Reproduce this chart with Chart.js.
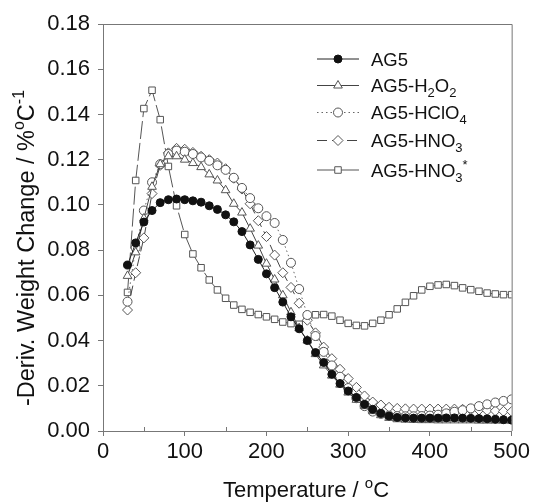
<!DOCTYPE html>
<html>
<head>
 <title>DTG curves - AG5 samples</title>
 <script src="https://cdn.jsdelivr.net/npm/chart.js"></script>
 <style>
  html, body { margin: 0; padding: 0; background: #fff; }
  #chart-container { width: 533px; height: 504px; }
 </style>
</head>
<body>
 <div id="chart-container">
  <canvas id="dtgChart" width="533" height="504"></canvas>
 </div>

 <script>
  // temperature (°C) and -deriv. weight change (%/°C)
  const temps = [30, 40, 50, 60, 70, 80, 90, 100, 110, 120, 130, 140, 150, 160, 170, 180, 190, 200,
   210, 220, 230, 240, 250, 260, 270, 280, 290, 300, 310, 320, 330, 340, 350, 360, 370, 380, 390, 400,
   410, 420, 430, 440, 450, 460, 470, 480, 490, 500];

  const ag5 = [0.0734, 0.0832, 0.0924, 0.0975, 0.1010, 0.1023, 0.1026, 0.1023, 0.1018, 0.1012, 0.0996,
   0.0980, 0.0956, 0.0925, 0.0882, 0.0823, 0.0759, 0.0695, 0.0634, 0.0570, 0.0505, 0.0452, 0.0400,
   0.0347, 0.0303, 0.0251, 0.0210, 0.0177, 0.0148, 0.0118, 0.0096, 0.0078, 0.0066, 0.0060, 0.0058,
   0.0057, 0.0057, 0.0057, 0.0057, 0.0058, 0.0058, 0.0057, 0.0056, 0.0055, 0.0054, 0.0052, 0.0050, 0.0048];

  const ag5H2O2 = [0.0686, 0.0790, 0.0940, 0.1080, 0.1180, 0.1215, 0.1215, 0.1200, 0.1185, 0.1167, 0.1135,
   0.1108, 0.1065, 0.1005, 0.0966, 0.0895, 0.0820, 0.0740, 0.0670, 0.0600, 0.0525, 0.0455, 0.0400,
   0.0340, 0.0290, 0.0245, 0.0205, 0.0170, 0.0138, 0.0110, 0.0088, 0.0070, 0.0058, 0.0052, 0.0050,
   0.0049, 0.0048, 0.0048, 0.0047, 0.0047, 0.0047, 0.0047, 0.0047, 0.0046, 0.0046, 0.0046, 0.0046, 0.0046];

  const ag5HClO4 = [0.0572, 0.0810, 0.0975, 0.1100, 0.1180, 0.1225, 0.1240, 0.1235, 0.1225, 0.1210, 0.1195,
   0.1175, 0.1155, 0.1120, 0.1075, 0.1030, 0.0985, 0.0950, 0.0920, 0.0845, 0.0744, 0.0628, 0.0513,
   0.0420, 0.0350, 0.0290, 0.0240, 0.0190, 0.0145, 0.0110, 0.0086, 0.0076, 0.0068, 0.0066, 0.0065,
   0.0065, 0.0066, 0.0068, 0.0072, 0.0078, 0.0085, 0.0092, 0.0100, 0.0110, 0.0118, 0.0126, 0.0133, 0.0140];

  const ag5HNO3 = [0.0535, 0.0700, 0.0854, 0.1050, 0.1175, 0.1230, 0.1250, 0.1246, 0.1232, 0.1215, 0.1200,
   0.1185, 0.1160, 0.1118, 0.1070, 0.1005, 0.0930, 0.0860, 0.0778, 0.0700, 0.0635, 0.0565, 0.0490,
   0.0434, 0.0371, 0.0320, 0.0273, 0.0232, 0.0193, 0.0155, 0.0128, 0.0115, 0.0105, 0.0100, 0.0098,
   0.0097, 0.0097, 0.0097, 0.0097, 0.0097, 0.0097, 0.0096, 0.0095, 0.0093, 0.0091, 0.0089, 0.0087, 0.0086];

  const ag5HNO3star = [0.0613, 0.1108, 0.1426, 0.1507, 0.1377, 0.1170, 0.0996, 0.0869, 0.0783, 0.0722, 0.0668,
   0.0624, 0.0587, 0.0557, 0.0538, 0.0525, 0.0515, 0.0505, 0.0494, 0.0482, 0.0475, 0.0472, 0.0508,
   0.0514, 0.0515, 0.0508, 0.0490, 0.0476, 0.0467, 0.0465, 0.0476, 0.0490, 0.0514, 0.0540, 0.0569,
   0.0598, 0.0624, 0.0640, 0.0646, 0.0648, 0.0643, 0.0633, 0.0625, 0.0618, 0.0610, 0.0606, 0.0603, 0.0603];

  const seriesNames = ['AG5', 'AG5-H2O2', 'AG5-HClO4', 'AG5-HNO3', 'AG5-HNO3*'];

  const xTicks = [0, 100, 200, 300, 400, 500];
  const xMinorTicks = [50, 150, 250, 350, 450];
  const yTicks = [0, 0.02, 0.04, 0.06, 0.08, 0.10, 0.12, 0.14, 0.16, 0.18];

  const FONT = '"Liberation Sans", Arial, sans-serif';

  function pts(values) {
   return temps.map((t, i) => ({ x: t, y: values[i] }));
  }

  // split a name like AG5-HNO3* into normal / subscript / superscript runs
  function nameParts(name) {
   const parts = [];
   const dash = name.indexOf('-');
   for (let i = 0; i < name.length; i++) {
    const c = name[i];
    let kind = 'n';
    if (dash >= 0 && i > dash && /[0-9]/.test(c)) kind = 'sub';
    if (c === '*') kind = 'sup';
    if (parts.length && parts[parts.length - 1].kind === kind) parts[parts.length - 1].t += c;
    else parts.push({ t: c, kind: kind });
   }
   return parts;
  }

  // draws runs of text with sub/superscripts
  function drawRich(ctx, parts, x, y, size, align) {
   const small = Math.round(size * 0.68);
   const widths = parts.map(p => {
    ctx.font = (p.kind === 'n' ? size : small) + 'px ' + FONT;
    return ctx.measureText(p.t).width;
   });
   const total = widths.reduce((a, b) => a + b, 0);
   let cx = align === 'center' ? x - total / 2 : x;
   ctx.textAlign = 'left';
   ctx.textBaseline = 'alphabetic';
   parts.forEach((p, i) => {
    ctx.font = (p.kind === 'n' ? size : small) + 'px ' + FONT;
    let dy = 0;
    if (p.kind === 'sub') dy = size * 0.28;
    if (p.kind === 'sup') dy = -size * 0.42;
    ctx.fillText(p.t, cx, y + dy);
    cx += widths[i];
   });
  }

  const styles = [
   { pointStyle: 'circle', radius: 4, fill: '#111', stroke: '#111', line: '#222', dash: [] },
   { pointStyle: 'triangle', radius: 5, fill: '#fff', stroke: '#555', line: '#444', dash: [] },
   { pointStyle: 'circle', radius: 4.5, fill: '#fff', stroke: '#555', line: '#666', dash: [1.5, 3] },
   { pointStyle: 'rectRot', radius: 5, fill: '#fff', stroke: '#555', line: '#444', dash: [10, 5] },
   { pointStyle: 'rect', radius: 4.6, fill: '#fff', stroke: '#555', line: '#555', dash: [18, 4] }
  ];
  const seriesValues = [ag5, ag5H2O2, ag5HClO4, ag5HNO3, ag5HNO3star];

  const datasets = seriesValues.map((vals, i) => ({
   label: seriesNames[i],
   data: pts(vals),
   borderColor: styles[i].line,
   borderWidth: 1,
   borderDash: styles[i].dash,
   tension: 0,
   fill: false,
   pointStyle: styles[i].pointStyle,
   pointRadius: styles[i].radius,
   pointBackgroundColor: styles[i].fill,
   pointBorderColor: styles[i].stroke,
   pointBorderWidth: 1
  }));

  // box, minor ticks, legend and axis titles
  const decorations = {
   id: 'decorations',
   afterDraw(chart) {
    const ctx = chart.ctx;
    const a = chart.chartArea;
    const xs = chart.scales.x;
    ctx.save();
    ctx.strokeStyle = '#777';
    ctx.lineWidth = 1;
    ctx.beginPath();
    ctx.moveTo(a.left, a.top + 0.5);
    ctx.lineTo(a.right + 0.5, a.top + 0.5);
    ctx.lineTo(a.right + 0.5, a.bottom);
    xMinorTicks.forEach(v => {
     const px = Math.round(xs.getPixelForValue(v)) + 0.5;
     ctx.moveTo(px, a.bottom);
     ctx.lineTo(px, a.bottom - 4);
    });
    ctx.stroke();

    // legend
    const rows = [59, 85.5, 112.5, 140.5, 170];
    const lx0 = 317, lx1 = 359, lm = 338, tx = 371;
    seriesNames.forEach((name, i) => {
     const s = styles[i];
     const y = rows[i];
     ctx.strokeStyle = s.line;
     ctx.setLineDash(i === 4 ? [] : s.dash);
     ctx.beginPath();
     ctx.moveTo(lx0, y);
     ctx.lineTo(lx1, y);
     ctx.stroke();
     ctx.setLineDash([]);
     ctx.fillStyle = s.fill;
     ctx.strokeStyle = s.stroke;
     Chart.helpers.drawPoint(ctx, { pointStyle: s.pointStyle, radius: s.radius, rotation: 0, borderWidth: 1 }, lm, y);
     ctx.fillStyle = '#111';
     drawRich(ctx, nameParts(name), tx, y + 6.5, 18.5, 'left');
    });

    // axis titles
    ctx.fillStyle = '#111';
    drawRich(ctx, [{ t: 'Temperature / ', kind: 'n' }, { t: 'o', kind: 'sup' }, { t: 'C', kind: 'n' }],
     306, 497, 22, 'center');
    ctx.translate(34, 248);
    ctx.rotate(-Math.PI / 2);
    drawRich(ctx, [{ t: '-Deriv. Weight Change / %', kind: 'n' }, { t: 'o', kind: 'sup' },
     { t: 'C', kind: 'n' }, { t: '-1', kind: 'sup' }], 0, 0, 23.5, 'center');
    ctx.restore();
   }
  };

  const ctx = document.getElementById('dtgChart').getContext('2d');
  const chart = new Chart(ctx, {
   type: 'line',
   data: { datasets: datasets },
   options: {
    responsive: false,
    animation: false,
    devicePixelRatio: 1,
    layout: { padding: { top: 24, right: 19, bottom: 0, left: 0 } },
    plugins: { legend: { display: false }, tooltip: { enabled: false } },
    scales: {
     x: {
      type: 'linear',
      min: 0,
      max: 500,
      afterBuildTicks: scale => { scale.ticks = xTicks.map(v => ({ value: v })); },
      afterFit: scale => { scale.height = 73; },
      ticks: { color: '#111', font: { family: FONT, size: 22 }, padding: 3, maxRotation: 0 },
      grid: { drawOnChartArea: false, drawTicks: true, tickLength: 5, color: '#777' },
      border: { display: true, color: '#777' }
     },
     y: {
      type: 'linear',
      min: 0,
      max: 0.18,
      afterBuildTicks: scale => { scale.ticks = yTicks.map(v => ({ value: v })); },
      afterFit: scale => { scale.width = 103; },
      ticks: { color: '#111', font: { family: FONT, size: 22 }, padding: 8,
       callback: v => v.toFixed(2) },
      grid: { drawOnChartArea: false, drawTicks: true, tickLength: 5, color: '#777' },
      border: { display: true, color: '#777' }
     }
    }
   },
   plugins: [decorations]
  });
 </script>
</body>
</html>
